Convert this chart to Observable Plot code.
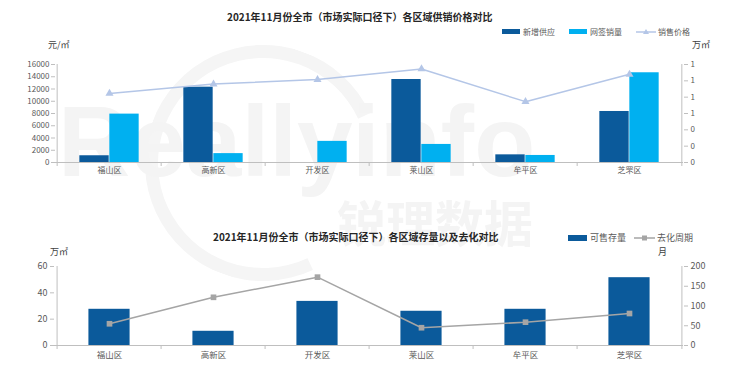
<!DOCTYPE html>
<html>
<head>
<meta charset="utf-8">
<script src="https://cdn.jsdelivr.net/npm/d3@7"></script>
<script src="https://cdn.jsdelivr.net/npm/@observablehq/plot@0.6"></script>
<style>
  html, body { margin: 0; padding: 0; background: #fff; }
  #wrap { position: relative; width: 740px; height: 386px; overflow: hidden;
          font-family: "Noto Sans CJK SC", "Noto Sans", sans-serif; color: #595959; }
  .abs { position: absolute; white-space: nowrap; }
  .title { font-weight: bold; font-size: 10px; color: #262626; }
  .leg { font-size: 8px; color: #595959; display: flex; align-items: center; }
  .sw { display: inline-block; width: 18px; height: 5px; margin-right: 3px; }
  .unit { font-size: 9px; color: #404040; }
  .wm { color: #f4f4f4; font-family: "Liberation Sans", sans-serif; font-weight: bold; line-height: 1; }
  .ring { position: absolute; border: 13px solid #f5f5f5; border-right-color: transparent; border-radius: 50%; transform: rotate(20deg); }
  svg { position: absolute; left: 0; background: transparent; }
</style>
</head>
<body>
<div id="wrap">
  <div class="ring" style="left:145px;top:45px;width:210px;height:210px;"></div>
  <div class="abs wm" style="left:58px;top:91px;font-size:100px;">Really</div>
  <div class="abs wm" style="left:352px;top:91px;font-size:100px;">info</div>
  <div class="abs wm" style="left:337px;top:196px;font-size:49px;font-family:'Noto Sans CJK SC';">锐理数据</div>

  <div class="abs title" style="left:227px;top:9px;">2021年11月份全市（市场实际口径下）各区域供销价格对比</div>
  <div class="abs leg" style="left:502px;top:26px;"><span class="sw" style="background:#0B5A9B"></span>新增供应</div>
  <div class="abs leg" style="left:569px;top:26px;"><span class="sw" style="background:#00B0F0"></span>网签销量</div>
  <div class="abs leg" style="left:636px;top:26px;"><svg width="20" height="8" style="position:static;margin-right:2px"><line x1="0" y1="4" x2="20" y2="4" stroke="#B4C6E7" stroke-width="1.5"/><path d="M10,1 L13,6 L7,6 Z" fill="#B4C6E7"/></svg>销售价格</div>
  <div class="abs unit" style="left:48px;top:38px;">元/㎡</div>
  <div class="abs unit" style="left:692px;top:38px;">万㎡</div>

  <div class="abs title" style="left:213px;top:229px;">2021年11月份全市（市场实际口径下）各区域存量以及去化对比</div>
  <div class="abs leg" style="left:568px;top:231px;font-size:9px;"><span class="sw" style="background:#0B5A9B;width:19px;height:6px"></span>可售存量</div>
  <div class="abs leg" style="left:634px;top:231px;font-size:9px;"><svg width="21" height="8" style="position:static;margin-right:2px"><line x1="0" y1="4" x2="21" y2="4" stroke="#A5A5A5" stroke-width="1.5"/><rect x="8" y="1.5" width="5" height="5" fill="#A5A5A5"/></svg>去化周期</div>
  <div class="abs unit" style="left:658px;top:245px;">月</div>
  <div class="abs unit" style="left:50px;top:245px;">万㎡</div>
</div>
<script>
const districts = ["福山区", "高新区", "开发区", "莱山区", "牟平区", "芝罘区"];
const newSupply = [1100, 12300, 0, 13550, 1250, 8330];      // 新增供应
const netSales  = [7900, 1450, 3450, 2950, 1150, 14650];    // 网签销量
const price     = [0.845, 0.96, 1.015, 1.145, 0.745, 1.08]; // 销售价格 (万元/㎡)
const stock     = [27.5, 10.8, 33.5, 26, 27.5, 51.5];        // 可售存量 (万㎡)
const cycle     = [55, 122, 173, 45, 59, 81];                // 去化周期 (月)
const leftTicksTop  = [0, 2000, 4000, 6000, 8000, 10000, 12000, 14000, 16000];
const rightTicksTop = [0, 0.2, 0.4, 0.6, 0.8, 1.0, 1.2];
const leftTicksBot  = [0, 20, 40, 60];
const rightTicksBot = [0, 50, 100, 150, 200];

const DARK = "#0B5A9B", LIGHT = "#00B0F0", PRICE = "#B4C6E7", GREY = "#A5A5A5", AX = "#BFBFBF";
const FONT = "'Noto Sans CJK SC', 'Noto Sans', sans-serif";

const rowsTop = districts.map((d, i) => ({district: d, supply: newSupply[i], sales: netSales[i], price: price[i]}));
const rowsBot = districts.map((d, i) => ({district: d, stock: stock[i], cycle: cycle[i]}));

const wrap = document.getElementById("wrap");

// ---------- Top chart ----------
{
  const width = 740, height = 180, mL = 55, mR = 57;
  const bw = (width - mL - mR) / districts.length;
  const yMax = 16000, rMax = 1.2, k = yMax / rMax;
  const barW = 30;
  const outer = (bw - 2 * barW) / 2;
  const chart = Plot.plot({
    width, height, marginTop: 64, marginBottom: 18, marginLeft: mL, marginRight: mR,
    style: {fontFamily: FONT, fontSize: "8px", color: "#595959", background: "transparent"},
    x: {domain: districts, padding: 0, axis: null},
    y: {domain: [0, yMax], axis: null},
    marks: [
      Plot.barY(rowsTop, {x: "district", y: "supply", fill: DARK, insetLeft: outer, insetRight: outer + barW}),
      Plot.barY(rowsTop, {x: "district", y: "sales", fill: LIGHT, insetLeft: outer + barW, insetRight: outer}),
      Plot.ruleY([0], {stroke: AX}),
      Plot.ruleX(districts.slice(0, 1), {x: d => d, dx: -bw / 2, y1: 0, y2: yMax, stroke: AX}),
      Plot.ruleX(districts.slice(-1), {x: d => d, dx: bw / 2, y1: 0, y2: yMax, stroke: AX}),
      Plot.ruleX(districts, {x: d => d, dx: -bw / 2, y1: 0, y2: 0, insetBottom: -4, stroke: AX}),
      Plot.ruleX(districts.slice(-1), {x: d => d, dx: bw / 2, y1: 0, y2: 0, insetBottom: -4, stroke: AX}),
      Plot.axisY({ticks: leftTicksTop, tickFormat: d => String(d), tickSize: 4, tickPadding: 2, stroke: AX, label: null}),
      Plot.axisY({anchor: "right", ticks: rightTicksTop.map(v => v * k), tickFormat: d => String(Math.round(d / k)), tickSize: 4, tickPadding: 3, stroke: AX, label: null}),
      Plot.axisX({tickSize: 0, tickPadding: 5, label: null}),
      Plot.line(rowsTop, {x: "district", y: d => d.price * k, stroke: PRICE, strokeWidth: 1.5}),
      Plot.dot(rowsTop, {x: "district", y: d => d.price * k, symbol: "triangle", fill: PRICE, r: 3})
    ]
  });
  chart.style.top = "0px";
  wrap.appendChild(chart);
}

// ---------- Bottom chart ----------
{
  const width = 740, height = 166, mL = 54, mR = 57;
  const bw = (width - mL - mR) / districts.length;
  const yMax = 60, rMax = 200, k = yMax / rMax;
  const barW = 42;
  const outer = (bw - barW) / 2;
  const chart = Plot.plot({
    width, height, marginTop: 46, marginBottom: 41, marginLeft: mL, marginRight: mR,
    style: {fontFamily: FONT, fontSize: "9px", color: "#595959", background: "transparent"},
    x: {domain: districts, padding: 0, axis: null},
    y: {domain: [0, yMax], axis: null},
    marks: [
      Plot.barY(rowsBot, {x: "district", y: "stock", fill: DARK, insetLeft: outer, insetRight: outer}),
      Plot.ruleY([0], {stroke: AX}),
      Plot.ruleX(districts.slice(0, 1), {x: d => d, dx: -bw / 2, y1: 0, y2: yMax, stroke: AX}),
      Plot.ruleX(districts.slice(-1), {x: d => d, dx: bw / 2, y1: 0, y2: yMax, stroke: AX}),
      Plot.ruleX(districts, {x: d => d, dx: -bw / 2, y1: 0, y2: 0, insetBottom: -4, stroke: AX}),
      Plot.ruleX(districts.slice(-1), {x: d => d, dx: bw / 2, y1: 0, y2: 0, insetBottom: -4, stroke: AX}),
      Plot.axisY({ticks: leftTicksBot, tickFormat: d => String(d), tickSize: 4, tickPadding: 3, stroke: AX, label: null}),
      Plot.axisY({anchor: "right", ticks: rightTicksBot.map(v => v * k), tickFormat: d => String(Math.round(d / k)), tickSize: 4, tickPadding: 3, stroke: AX, label: null}),
      Plot.axisX({tickSize: 0, tickPadding: 6, fontSize: 8.5, label: null}),
      Plot.line(rowsBot, {x: "district", y: d => d.cycle * k, stroke: GREY, strokeWidth: 1.5}),
      Plot.dot(rowsBot, {x: "district", y: d => d.cycle * k, symbol: "square", fill: GREY, r: 3.2})
    ]
  });
  chart.style.top = "220px";
  wrap.appendChild(chart);
}
</script>
</body>
</html>
